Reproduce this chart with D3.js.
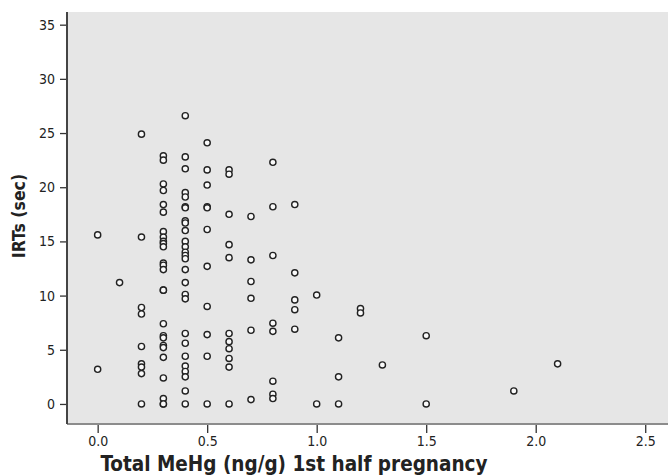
<!DOCTYPE html>
<html>
<head>
<meta charset="utf-8">
<script src="https://cdn.jsdelivr.net/npm/d3@7"></script>
<style>
  body { margin: 0; background: #fff; }
  svg { display: block; }
  text { font-family: "Liberation Sans Narrow", "DejaVu Sans Condensed", "Roboto Condensed", sans-serif; fill: #222; }
</style>
</head>
<body>
<svg width="668" height="475"></svg>
<script>
// total MeHg, 1st half of pregnancy (ng/g)
var mehg = [
  0.0, 0.0,
  0.1,
  0.2, 0.2, 0.2, 0.2, 0.2, 0.2, 0.2, 0.2, 0.2,
  0.3, 0.3, 0.3, 0.3, 0.3, 0.3, 0.3, 0.3, 0.3, 0.3, 0.3, 0.3, 0.3, 0.3, 0.3, 0.3, 0.3, 0.3, 0.3, 0.3, 0.3, 0.3, 0.3, 0.3, 0.3, 0.3,
  0.4, 0.4, 0.4, 0.4, 0.4, 0.4, 0.4, 0.4, 0.4, 0.4, 0.4, 0.4, 0.4, 0.4, 0.4, 0.4, 0.4, 0.4, 0.4, 0.4, 0.4, 0.4, 0.4, 0.4, 0.4, 0.4, 0.4,
  0.5, 0.5, 0.5, 0.5, 0.5, 0.5, 0.5, 0.5, 0.5, 0.5, 0.5,
  0.6, 0.6, 0.6, 0.6, 0.6, 0.6, 0.6, 0.6, 0.6, 0.6, 0.6,
  0.7, 0.7, 0.7, 0.7, 0.7, 0.7,
  0.8, 0.8, 0.8, 0.8, 0.8, 0.8, 0.8, 0.8,
  0.9, 0.9, 0.9, 0.9, 0.9,
  1.0, 1.0,
  1.1, 1.1, 1.1,
  1.2, 1.2,
  1.3,
  1.5, 1.5,
  1.9,
  2.1
];

// IRTs (sec), same order as mehg
var irts = [
  15.6, 3.2,
  11.2,
  24.9, 15.4, 8.9, 8.3, 5.3, 3.7, 3.4, 2.8, 0,
  22.9, 22.5, 20.3, 19.7, 18.4, 17.7, 15.9, 15.4, 15.0, 14.8, 14.5, 13.0, 12.8, 12.4, 10.5, 10.5, 7.4, 6.3, 6.1, 5.4, 5.2, 4.3, 2.4, 0.5, 0, 0,
  26.6, 22.8, 21.7, 19.5, 19.1, 18.2, 18.1, 16.9, 16.7, 16.0, 15.0, 14.5, 14.0, 13.7, 13.4, 12.4, 11.2, 10.1, 9.7, 6.5, 5.6, 4.4, 3.5, 3.0, 2.5, 1.2, 0,
  24.1, 21.6, 20.2, 18.2, 18.1, 16.1, 12.7, 9.0, 6.4, 4.4, 0,
  21.6, 21.2, 17.5, 14.7, 13.5, 6.5, 5.75, 5.1, 4.2, 3.4, 0,
  17.3, 13.3, 11.3, 9.75, 6.8, 0.4,
  22.3, 18.2, 13.7, 7.45, 6.7, 2.1, 0.9, 0.5,
  18.4, 12.1, 9.6, 8.7, 6.9,
  10.05, 0,
  6.1, 2.5, 0,
  8.8, 8.4,
  3.6,
  6.3, 0,
  1.2,
  3.7
];

var xTicks = [0, 0.5, 1.0, 1.5, 2.0, 2.5];
var yTicks = [0, 5, 10, 15, 20, 25, 30, 35];

var svg = d3.select("svg"),
    margin = { top: 12, right: 0, bottom: 51, left: 67 },
    width = +svg.attr("width") - margin.left - margin.right,
    height = +svg.attr("height") - margin.top - margin.bottom;

var x = d3.scaleLinear().domain([-0.14, 2.604]).range([0, width]),
    y = d3.scaleLinear().domain([-1.85, 36.17]).range([height, 0]);

var g = svg.append("g")
    .attr("transform", "translate(" + margin.left + "," + margin.top + ")");

g.append("rect")
    .attr("width", width)
    .attr("height", height)
    .attr("fill", "#e6e6e6");

var xAxis = d3.axisBottom(x).tickValues(xTicks).tickFormat(d3.format(".1f"))
    .tickSizeInner(9).tickSizeOuter(0).tickPadding(3);
var yAxis = d3.axisLeft(y).tickValues(yTicks).tickFormat(d3.format("d"))
    .tickSizeInner(7).tickSizeOuter(0).tickPadding(5);

var gx = g.append("g")
    .attr("transform", "translate(0," + height + ")")
    .call(xAxis);
gx.select(".domain").remove();
gx.selectAll(".tick line").attr("stroke", "#333").attr("stroke-width", 1.3);
gx.selectAll(".tick text").attr("font-size", 14).attr("fill", "#222");

var gy = g.append("g").call(yAxis);
gy.select(".domain").remove();
gy.selectAll(".tick line").attr("stroke", "#333").attr("stroke-width", 1.3);
gy.selectAll(".tick text").attr("font-size", 14).attr("fill", "#222");

// frame lines: dark left, grey bottom
g.append("line")
    .attr("x1", 0).attr("x2", width)
    .attr("y1", height).attr("y2", height)
    .attr("stroke", "#8c8c8c").attr("stroke-width", 2);
g.append("line")
    .attr("x1", 0).attr("x2", 0)
    .attr("y1", 0).attr("y2", height)
    .attr("stroke", "#444").attr("stroke-width", 2);

g.selectAll("circle.pt")
    .data(d3.range(mehg.length))
    .enter().append("circle")
    .attr("class", "pt")
    .attr("cx", function (i) { return x(mehg[i]); })
    .attr("cy", function (i) { return y(irts[i]); })
    .attr("r", 3.1)
    .attr("fill", "#fafafa")
    .attr("stroke", "#222")
    .attr("stroke-width", 1.4);

svg.append("text")
    .attr("x", 294)
    .attr("y", 471)
    .attr("text-anchor", "middle")
    .attr("font-size", 20.5)
    .attr("font-weight", "bold")
    .text("Total MeHg (ng/g) 1st half pregnancy");

svg.append("text")
    .attr("transform", "translate(25,216) rotate(-90)")
    .attr("text-anchor", "middle")
    .attr("font-size", 17.5)
    .attr("font-weight", "bold")
    .text("IRTs (sec)");
</script>
</body>
</html>
